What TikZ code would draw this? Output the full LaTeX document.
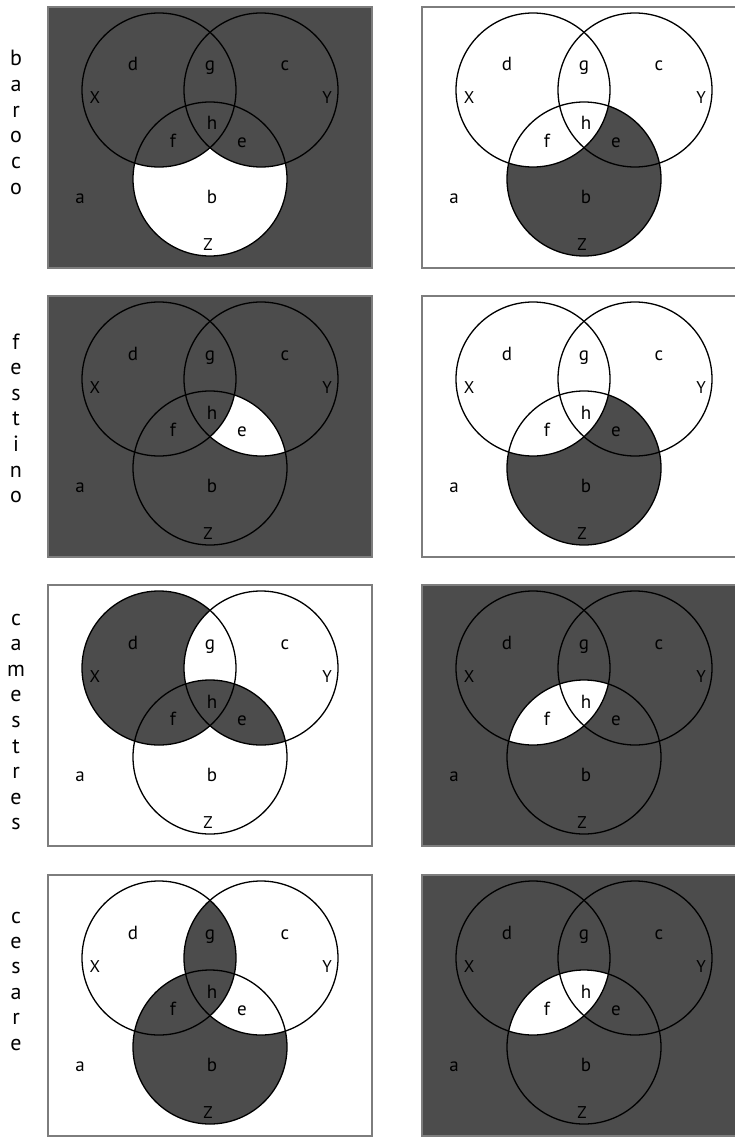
\documentclass[tikz,border=0pt]{standalone}
\usepackage{fontspec}
\setmainfont{PT Sans}
\definecolor{venndark}{RGB}{76,76,76}
\definecolor{vennframe}{RGB}{125,125,125}
\tikzset{
  panelframe/.style={draw=vennframe, line width=1.3pt},
  vcirc/.style={draw=black, line width=1.3pt},
  rlbl/.style={inner sep=0pt, anchor=base, font=\fontsize{19}{19}\selectfont},
  clbl/.style={inner sep=0pt, anchor=base, font=\fontsize{17}{17}\selectfont},
  sidelbl/.style={inner sep=0pt, anchor=base, font=\fontsize{22}{22}\selectfont},
}
\newcommand\cX{(111,83) circle[radius=77]}
\newcommand\cY{(213,83) circle[radius=77]}
\newcommand\cZ{(162,172) circle[radius=77]}
% #1 prefix, #2 x, #3 y, #4 background, #5 shading
\newcommand\vennpanel[5]{%
\begin{scope}[shift={(#2,#3)}]
  \fill[#4] (0,0) rectangle (324,261);
  #5
  \coordinate (#1X) at (111,83);
  \coordinate (#1Y) at (213,83);
  \coordinate (#1Z) at (162,172);
  \draw[vcirc] (#1X) circle[radius=77];
  \draw[vcirc] (#1Y) circle[radius=77];
  \draw[vcirc] (#1Z) circle[radius=77];
  \draw[panelframe] (0,0) rectangle (324,261);
  \node[rlbl] (#1d) at (85,64) {d};
  \node[rlbl] (#1g) at (162,64) {g};
  \node[rlbl] (#1c) at (237,64) {c};
  \node[clbl] (#1LX) at (47,97) {X};
  \node[clbl] (#1LY) at (279,97) {Y};
  \node[rlbl] (#1h) at (164,123) {h};
  \node[rlbl] (#1f) at (125,140) {f};
  \node[rlbl] (#1e) at (194,140) {e};
  \node[rlbl] (#1a) at (32,196) {a};
  \node[rlbl] (#1b) at (164,196) {b};
  \node[clbl] (#1LZ) at (160,243) {Z};
\end{scope}}
\begin{document}
\begin{tikzpicture}[x=1pt,y=-1pt]
\useasboundingbox (0,0) rectangle (734,1137);
% row 1: baroco
\vennpanel{pa}{48}{7}{venndark}{%
  \fill[white]\cZ;
  \begin{scope}\clip\cZ; \fill[venndark]\cX; \fill[venndark]\cY; \end{scope}}
\vennpanel{pb}{422}{7}{white}{%
  \fill[venndark]\cZ;
  \begin{scope}\clip\cZ; \fill[white]\cX; \end{scope}}
% row 2: festino
\vennpanel{pc}{48}{296}{venndark}{%
  \begin{scope}\clip\cY; \fill[white]\cZ; \end{scope}
  \begin{scope}\clip\cZ; \fill[venndark]\cX; \end{scope}}
\vennpanel{pd}{422}{296}{white}{%
  \fill[venndark]\cZ;
  \begin{scope}\clip\cZ; \fill[white]\cX; \end{scope}}
% row 3: camestres
\vennpanel{pe}{48}{585}{white}{%
  \fill[venndark]\cX;
  \begin{scope}\clip\cX; \fill[white]\cY; \end{scope}
  \begin{scope}\clip\cZ; \fill[venndark]\cX; \fill[venndark]\cY; \end{scope}}
\vennpanel{pf}{422}{585}{venndark}{%
  \begin{scope}\clip\cX; \fill[white]\cZ; \end{scope}}
% row 4: cesare
\vennpanel{pg}{48}{875}{white}{%
  \fill[venndark]\cZ;
  \begin{scope}\clip\cZ; \fill[white]\cY; \end{scope}
  \begin{scope}\clip\cX; \fill[venndark]\cY; \end{scope}}
\vennpanel{ph}{422}{875}{venndark}{%
  \begin{scope}\clip\cX; \fill[white]\cZ; \end{scope}}
% side words
\foreach \ch [count=\i] in {b,a,r,o,c,o}
  \node[sidelbl] (baroco\i) at (16,{66+(\i-1)*25.6}) {\ch};
\foreach \ch [count=\i] in {f,e,s,t,i,n,o}
  \node[sidelbl] (festino\i) at (16,{349+(\i-1)*25.6}) {\ch};
\foreach \ch [count=\i] in {c,a,m,e,s,t,r,e,s}
  \node[sidelbl] (camestres\i) at (16,{625+(\i-1)*25.6}) {\ch};
\foreach \ch [count=\i] in {c,e,s,a,r,e}
  \node[sidelbl] (cesare\i) at (16,{923+(\i-1)*25.4}) {\ch};
\end{tikzpicture}
\end{document}
